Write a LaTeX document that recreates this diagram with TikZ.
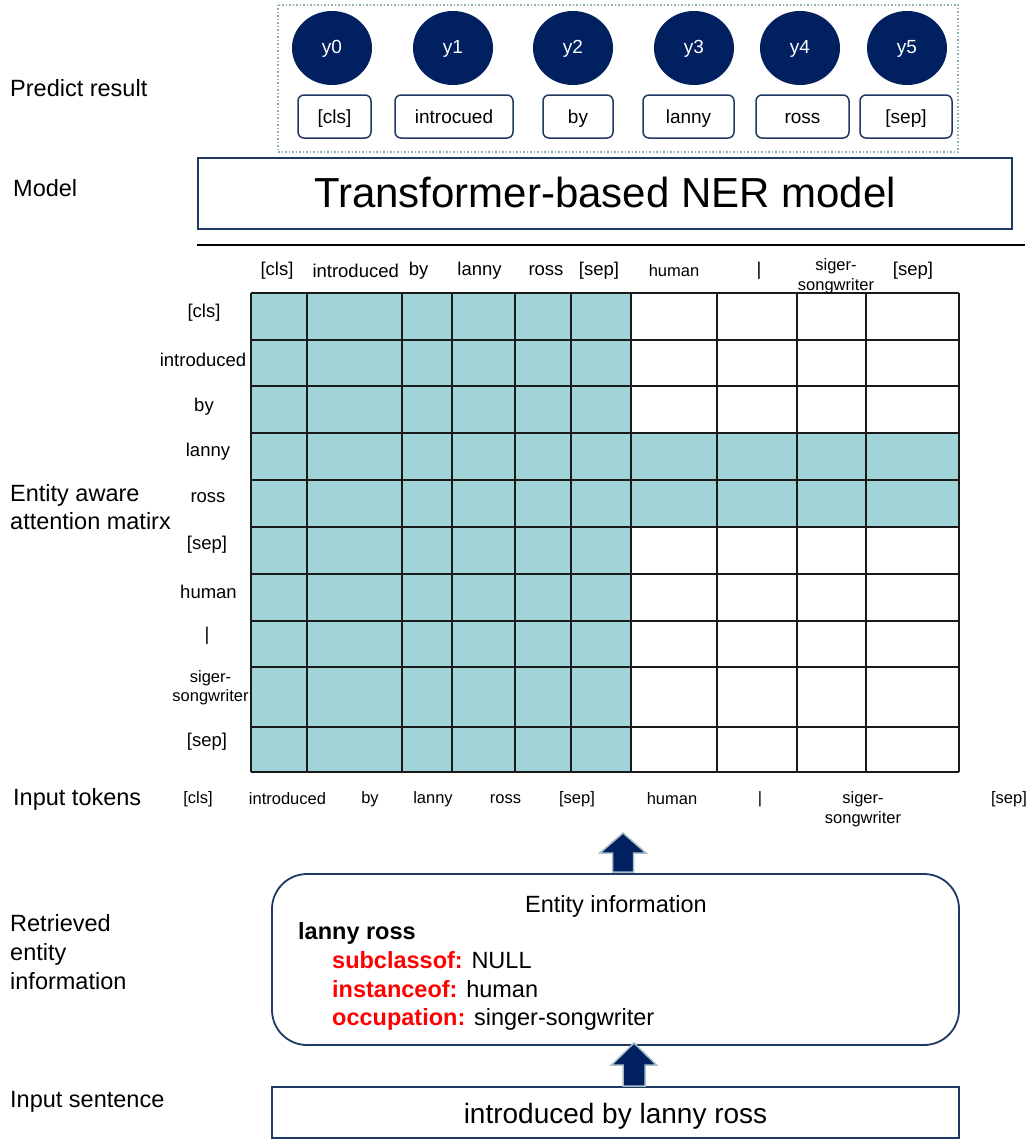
\documentclass[tikz,border=0pt]{standalone}
\usepackage{fontspec}
\setmainfont{Liberation Sans}
\usetikzlibrary{shapes.geometric,calc}
\definecolor{navy}{HTML}{002060}
\definecolor{boxnavy}{HTML}{1F3864}
\definecolor{cellteal}{HTML}{A1D4D8}
\definecolor{dotgray}{HTML}{8FAFAF}
\definecolor{arrowedge}{HTML}{A9BFC9}
\definecolor{keyred}{HTML}{FF0000}
\definecolor{gridline}{HTML}{1A1A1A}
\newcommand\blockarrow[5]{%
  \filldraw[barrow] ($(#1)+(-#3,0)$) -- ($(#2)+(-#3,#5)$) -- ($(#2)+(-#4,#5)$) -- (#2)
    -- ($(#2)+(#4,#5)$) -- ($(#2)+(#3,#5)$) -- ($(#1)+(#3,0)$) -- cycle;}
\begin{document}
\begin{tikzpicture}[x=1pt,y=-1pt,
  side/.style={anchor=west, inner sep=0, font=\fontsize{23.5}{28.6}\selectfont, align=left},
  ell/.style={ellipse, fill=navy, minimum width=80, minimum height=74, inner sep=0, text=white, font=\fontsize{19}{22}\selectfont, text height=15, text depth=4},
  tok/.style={draw=boxnavy, line width=1.5, rounded corners=6, minimum height=43, inner sep=0, font=\fontsize{19}{22}\selectfont, text height=18, text depth=4},
  hdr/.style={inner sep=0, font=\fontsize{18.5}{19}\selectfont, align=center},
  hdrs/.style={inner sep=0, font=\fontsize{16.5}{19.5}\selectfont, align=center},
  gthin/.style={draw=gridline, line width=1.2},
  gthick/.style={draw=gridline, line width=2.2},
  navybox/.style={draw=boxnavy, line width=1.8, inner sep=0},
  barrow/.style={fill=navy, draw=arrowedge, line width=1.5, line join=miter},
  info/.style={anchor=west, inner sep=0, font=\fontsize{23.5}{28}\selectfont, text height=17, text depth=5}
]
\useasboundingbox (0,0) rectangle (1030,1140);
\fill[white] (0,0) rectangle (1030,1140);

% ---- side labels
\node[side] (lpred) at (10,88) {Predict result};
\node[side] (lmodel) at (13,188) {Model};
\node[side] (latt) at (10,507) {Entity aware\\attention matirx};
\node[side] (linput) at (13,799) {Input tokens};
\node[side] (lret) at (10,952) {Retrieved\\entity\\information};
\node[side] (lsent) at (10,1102) {Input sentence};

% ---- predict result
\draw[dotgray, line width=1.5, dotted] (278,5) rectangle (958,152);
\node[ell] (y0) at (332,48) {y0};
\node[ell] (y1) at (453,48) {y1};
\node[ell] (y2) at (573,48) {y2};
\node[ell] (y3) at (694,48) {y3};
\node[ell] (y4) at (800,48) {y4};
\node[ell] (y5) at (907,48) {y5};
\node[tok, minimum width=73] (t0) at (334.5,116.5) {[cls]};
\node[tok, minimum width=118] (t1) at (454,116.5) {introcued};
\node[tok, minimum width=70] (t2) at (578,116.5) {by};
\node[tok, minimum width=91] (t3) at (688.5,116.5) {lanny};
\node[tok, minimum width=93] (t4) at (802.5,116.5) {ross};
\node[tok, minimum width=92] (t5) at (906,116.5) {[sep]};

% ---- model
\node[navybox, minimum width=814, minimum height=71, font=\fontsize{42}{48}\selectfont, text height=37, text depth=9] (model) at (605,193.5) {Transformer-based NER model};
\draw[line width=2] (197,245) -- (1025,245);

% ---- attention matrix
\fill[cellteal] (251,293) rectangle (631,772);
\fill[cellteal] (631,433) rectangle (959,527);
\foreach \x in {251,402,452,515,571,866,959} \draw[gthin] (\x,293) -- (\x,772);
\foreach \x in {307,631,717,797} \draw[gthick] (\x,293) -- (\x,772);
\foreach \y in {293,340,386,433,574,727,772} \draw[gthin] (251,\y) -- (959,\y);
\foreach \y in {480,527,621,667} \draw[gthick] (251,\y) -- (959,\y);

% column headers
\node[hdr] (c0) at (277,271) {[cls]};
\node[hdr] (c1) at (355.7,271) {introduced};
\node[hdr] (c2) at (418.7,271) {by};
\node[hdr] (c3) at (479.5,271) {lanny};
\node[hdr] (c4) at (546,271) {ross};
\node[hdr] (c5) at (599,271) {[sep]};
\node[hdrs] (c6) at (674,271) {human};
\node[hdr] (c7) at (759,271) {|};
\node[hdrs] (c8) at (836,276) {siger-\\songwriter};
\node[hdr] (c9) at (913,271) {[sep]};

% row headers
\node[hdr] (r0) at (204,313) {[cls]};
\node[hdr] (r1) at (203,360) {introduced};
\node[hdr] (r2) at (204,407) {by};
\node[hdr] (r3) at (208,452) {lanny};
\node[hdr] (r4) at (208,498) {ross};
\node[hdr] (r5) at (207,545) {[sep]};
\node[hdr] (r6) at (208.5,592) {human};
\node[hdr] (r7) at (207,636) {|};
\node[hdrs] (r8) at (210.5,687.5) {siger-\\songwriter};
\node[hdr] (r9) at (207,742) {[sep]};

% input tokens
\node[hdrs] (i0) at (198,799) {[cls]};
\node[hdrs] (i1) at (287.5,799) {introduced};
\node[hdrs] (i2) at (370,799) {by};
\node[hdrs] (i3) at (433,799) {lanny};
\node[hdrs] (i4) at (505.5,799) {ross};
\node[hdrs] (i5) at (577,799) {[sep]};
\node[hdrs] (i6) at (672,799) {human};
\node[hdrs] (i7) at (760,799) {|};
\node[hdrs] (i8) at (863,809) {siger-\\songwriter};
\node[hdrs] (i9) at (1009,799) {[sep]};

% ---- entity information
\node[navybox, rounded corners=35, minimum width=687, minimum height=171] (ent) at (615.5,959.5) {};
\node[info] (etitle) at (525,906) {Entity information};
\node[info, font=\fontsize{23.5}{28}\selectfont\bfseries] (ename) at (298,933) {lanny ross};
\node[info] (e1) at (332,962) {\textcolor{keyred}{\bfseries subclassof:} NULL};
\node[info] (e2) at (332,991) {\textcolor{keyred}{\bfseries instanceof:} human};
\node[info] (e3) at (332,1019) {\textcolor{keyred}{\bfseries occupation:} singer-songwriter};

% ---- input sentence
\node[navybox, minimum width=687, minimum height=51, font=\fontsize{28}{32}\selectfont, text height=28, text depth=6] (sent) at (615.5,1112.5) {introduced by lanny ross};

% ---- block arrows
\coordinate (a1base) at (623,872);
\coordinate (a1tip) at (623,833);
\blockarrow{a1base}{a1tip}{10.5}{23}{20}
\coordinate (a2base) at (634,1086);
\coordinate (a2tip) at (634,1043);
\blockarrow{a2base}{a2tip}{11}{22.5}{22}
\end{tikzpicture}
\end{document}
